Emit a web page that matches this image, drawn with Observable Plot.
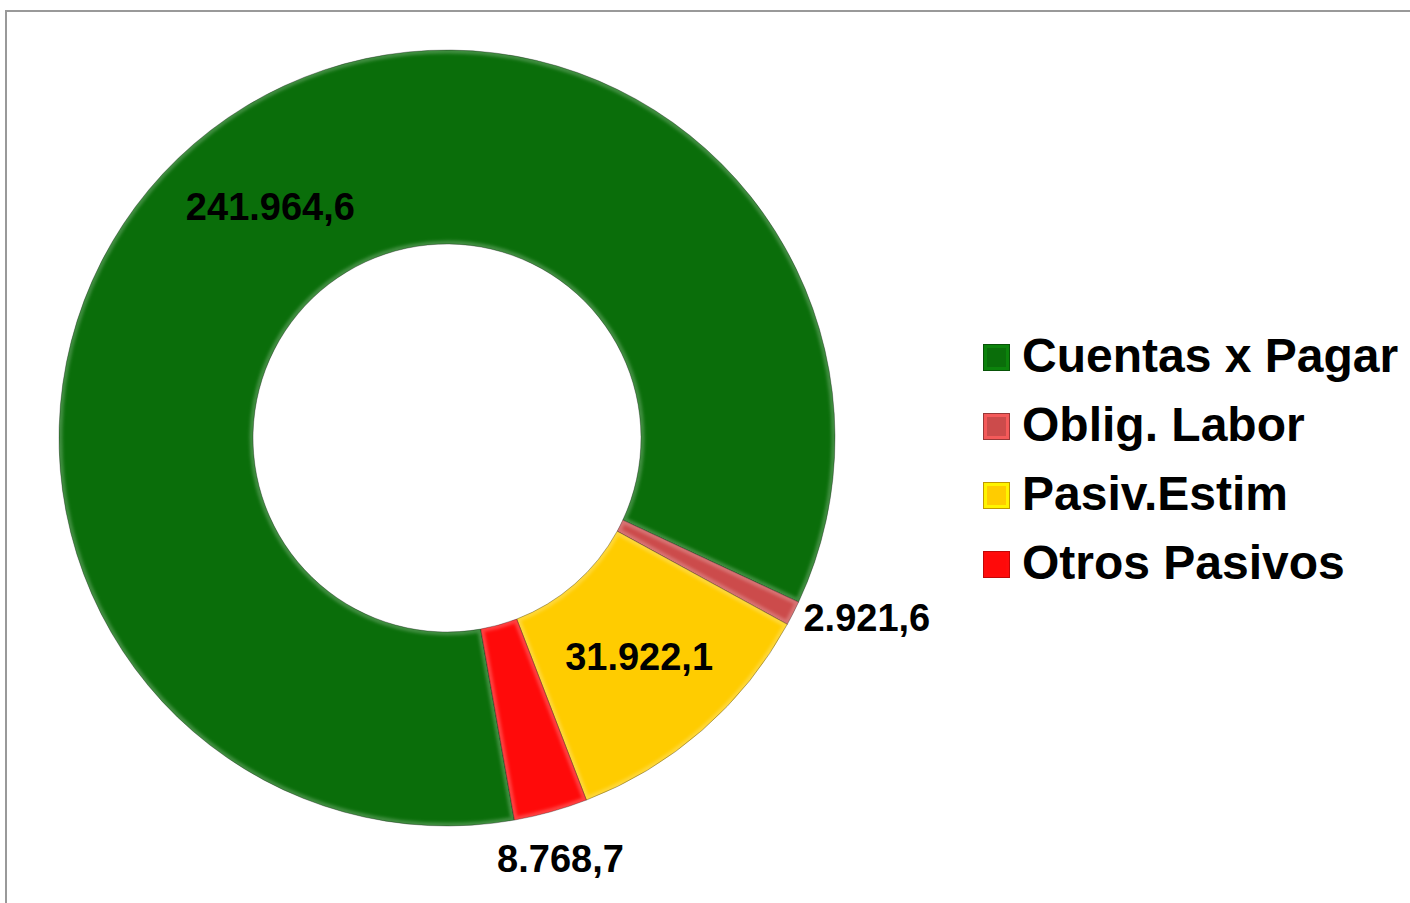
<!DOCTYPE html>
<html>
<head>
<meta charset="utf-8">
<script src="https://cdn.jsdelivr.net/npm/d3@7"></script>
<script src="https://cdn.jsdelivr.net/npm/@observablehq/plot@0.6"></script>
<style>
  html, body { margin: 0; padding: 0; background: #fff; }
  #wrap { position: relative; width: 1410px; height: 903px; overflow: hidden; font-family: "Liberation Sans", Arial, sans-serif; }
  #frame { position: absolute; left: 5px; top: 10px; width: 1500px; height: 1000px; border-left: 2px solid #999; border-top: 2px solid #999; box-sizing: border-box; }
  #chart { position: absolute; left: 0; top: 0; }
  #legend { position: absolute; left: 983px; top: 321px; }
  .row { display: flex; align-items: center; height: 69px; font-size: 48px; font-weight: bold; color: #000; white-space: nowrap; }
  .sw { width: 27px; height: 27px; margin-right: 12px; box-sizing: border-box; margin-top: 3px; }
</style>
</head>
<body>
<div id="wrap">
  <div id="frame"></div>
  <div id="chart"></div>
  <div id="legend"></div>
</div>
<script>
// ---- data ----
const categories = ["Cuentas x Pagar", "Oblig. Labor", "Pasiv.Estim", "Otros Pasivos"];
const values = [241964.6, 2921.6, 31922.1, 8768.7];
const colors = ["#0a6e0a", "#cc4b4b", "#ffcc00", "#ff0a0a"];
const firstSliceAngle = 170; // degrees, clockwise from 12 o'clock
const holeRatio = 0.5;

const rows = categories.map((c, i) => ({category: c, value: values[i], color: colors[i]}));
const fmt = d3.formatLocale({decimal: ",", thousands: ".", grouping: [3], currency: ["", ""]}).format(",.1f");

const a0 = firstSliceAngle * Math.PI / 180;
const arcs = d3.pie().sort(null).value(d => d.value).startAngle(a0).endAngle(a0 + 2 * Math.PI)(rows);
const total = d3.sum(values);

// pixel geometry of the plot frame
const W = 1410, H = 903;
const mL = 59, mR = 575, mT = 50, mB = 77;
const Rpx = (W - mL - mR) / 2;

// label positions (unit circle coordinates, y up)
const labels = arcs.map(a => {
  const mid = (a.startAngle + a.endAngle) / 2;
  const s = Math.sin(mid), c = Math.cos(mid);
  const share = a.data.value / total;
  if (share > 0.05) {
    const r = (1 + holeRatio) / 2;
    return {text: fmt(a.data.value), x: r * s, y: r * c, ta: "middle", la: "middle"};
  }
  if (Math.abs(s) > Math.abs(c)) {
    const r = 1 + 11 / Rpx;
    return {text: fmt(a.data.value), x: r * s, y: r * c, ta: s > 0 ? "start" : "end", la: "middle"};
  }
  const r = 1 + 34 / Rpx;
  return {text: fmt(a.data.value), x: r * s, y: r * c, ta: "middle", la: c < 0 ? "top" : "bottom"};
});

// custom donut mark using Plot's scales
function donut(index, scales) {
  const cx = scales.x(0), cy = scales.y(0);
  const R = Math.abs(scales.x(1) - scales.x(0));
  const arc = d3.arc().innerRadius(R * holeRatio).outerRadius(R);
  const g = d3.create("svg:g").attr("transform", `translate(${cx},${cy})`);
  const defs = g.append("defs");
  defs.append("filter").attr("id", "bevblur").attr("x", "-10%").attr("y", "-10%").attr("width", "120%").attr("height", "120%")
    .append("feGaussianBlur").attr("stdDeviation", 1.6);
  arcs.forEach((a, i) => {
    const d = arc(a);
    defs.append("clipPath").attr("id", "sl" + i).append("path").attr("d", d);
    g.append("path").attr("d", d).attr("fill", a.data.color);
    g.append("path").attr("d", d).attr("fill", "none")
      .attr("stroke", "#fff").attr("stroke-opacity", 0.22).attr("stroke-width", 7)
      .attr("clip-path", `url(#sl${i})`).attr("filter", "url(#bevblur)");
    g.append("path").attr("d", d).attr("fill", "none")
      .attr("stroke", "#000").attr("stroke-opacity", 0.3).attr("stroke-width", 1);
  });
  return g.node();
}

const groups = d3.groups(labels, d => d.ta + "|" + d.la);
const textMarks = groups.map(([key, arr]) => Plot.text(arr, {
  x: "x", y: "y", text: "text",
  textAnchor: arr[0].ta, lineAnchor: arr[0].la,
  fontSize: 38, fontWeight: "bold", fill: "#000",
  fontFamily: "Liberation Sans, Arial, sans-serif"
}));

const plot = Plot.plot({
  width: W, height: H,
  marginLeft: mL, marginRight: mR, marginTop: mT, marginBottom: mB,
  x: {domain: [-1, 1], axis: null},
  y: {domain: [-1, 1], axis: null},
  style: {background: "transparent", overflow: "visible"},
  marks: [donut, ...textMarks]
});
document.getElementById("chart").appendChild(plot);

// legend
const legend = d3.select("#legend");
rows.forEach(r => {
  const row = legend.append("div").attr("class", "row");
  const c = d3.color(r.color);
  row.append("div").attr("class", "sw")
    .style("background", r.color)
    .style("border", `1px solid ${c.darker(0.8)}`)
    .style("box-shadow", `inset 0 0 0 3px ${c.brighter(0.5)}`);
  row.append("span").text(r.category);
});
</script>
</body>
</html>
